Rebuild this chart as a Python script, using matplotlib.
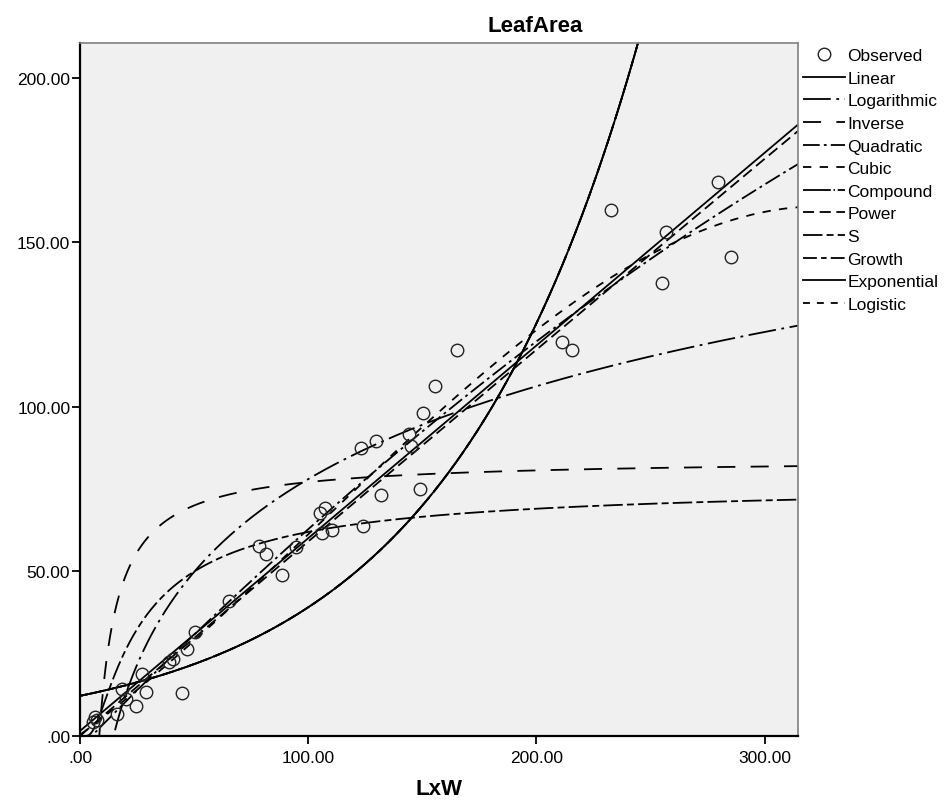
import numpy as np
import matplotlib
matplotlib.use("Agg")
import matplotlib.pyplot as plt
from matplotlib.ticker import FuncFormatter

# observed points
lxw = [5.5, 6.6, 7.6, 16.3, 18.5, 20.0, 24.7, 27.2, 29.0, 39.0, 40.8, 44.8,
       46.8, 50.3, 65.2, 78.6, 81.4, 88.4, 94.8, 105.2, 106.2, 107.4, 110.6,
       123.1, 123.9, 129.7, 131.9, 144.3, 145.0, 149.0, 150.4, 155.4, 165.3,
       211.3, 215.5, 232.7, 255.2, 256.7, 279.7, 285.3]
leaf_area = [4.2, 5.7, 5.0, 6.7, 14.3, 11.3, 9.0, 18.8, 13.4, 22.5, 23.5, 13.2,
             26.4, 31.7, 41.1, 57.6, 55.3, 48.9, 57.5, 67.9, 61.6, 69.3, 62.7,
             87.5, 63.7, 89.8, 73.3, 91.8, 88.2, 75.1, 98.2, 106.3, 117.4,
             119.6, 117.2, 160.0, 137.6, 153.3, 168.5, 145.7]

x_ticks = [0, 100, 200, 300]
y_ticks = [0, 50, 100, 150, 200]

plt.rcParams['font.family'] = ['Liberation Sans', 'DejaVu Sans']
plt.rcParams['lines.scale_dashes'] = False

x = np.array(lxw)
y = np.array(leaf_area)
xs = np.linspace(0.3, 320, 1000)

# curve estimation, same model forms as SPSS
lin = np.polyval(np.polyfit(x, y, 1), xs)
lg = np.polyval(np.polyfit(np.log(x), y, 1), np.log(xs))
inv = np.polyval(np.polyfit(1 / x, y, 1), 1 / xs)
quad = np.polyval(np.polyfit(x, y, 2), xs)
cub = np.polyval(np.polyfit(x, y, 3), xs)
comp = np.exp(np.polyval(np.polyfit(x, np.log(y), 1), xs))
pw = np.exp(np.polyval(np.polyfit(np.log(x), np.log(y), 1), np.log(xs)))
s_curve = np.exp(np.polyval(np.polyfit(1 / x, np.log(y), 1), 1 / xs))

curves = [
    ('Linear', lin, '-'),
    ('Logarithmic', lg, (0, (20, 4, 2, 4))),
    ('Inverse', inv, (0, (13, 11))),
    ('Quadratic', quad, (0, (12, 3, 2, 3))),
    ('Cubic', cub, (0, (6, 6))),
    ('Compound', comp, (0, (20, 2, 1, 2))),
    ('Power', pw, (0, (8, 4))),
    ('S', s_curve, (0, (14, 3, 5, 3))),
    ('Growth', comp, (0, (10, 3, 4, 3))),
    ('Exponential', comp, '-'),
    ('Logistic', comp, (0, (5, 5))),
]

fig = plt.figure(figsize=(9.47, 8.12), dpi=100)
ax = fig.add_axes([80 / 947, 1 - 737 / 812, 718 / 947, 693 / 812])
ax.set_facecolor('#f0f0f0')

handles = []
h = ax.plot(x, y, 'o', mfc='none', mec='#222222', ms=9, mew=1.0, label='Observed', zorder=5)[0]
handles.append(h)
for name, vals, ls in curves:
    h = ax.plot(xs, vals, color='black', lw=1.3, linestyle=ls, label=name)[0]
    handles.append(h)

ax.set_xlim(0, 314.6)
ax.set_ylim(0, 210.6)
ax.set_xticks(x_ticks)
ax.set_yticks(y_ticks)
fmt = FuncFormatter(lambda v, p: '.00' if v == 0 else f'{v:.2f}')
ax.xaxis.set_major_formatter(fmt)
ax.yaxis.set_major_formatter(fmt)
ax.tick_params(direction='out', length=6, width=1.3, labelsize=12.5, colors='black')
ax.tick_params(axis='x', pad=4)
ax.tick_params(axis='y', pad=1)
for side in ['left', 'bottom']:
    ax.spines[side].set_linewidth(1.6)
    ax.spines[side].set_color('black')
for side in ['top', 'right']:
    ax.spines[side].set_linewidth(1.2)
    ax.spines[side].set_color('#808080')

fig.text(535 / 947, 1 - 27 / 812, 'LeafArea', ha='center', va='center',
         fontsize=16, fontweight='bold')
fig.text(439 / 947, 1 - 790 / 812, 'LxW', ha='center', va='center',
         fontsize=16, fontweight='bold')

fig.legend(handles=handles, loc='upper left', bbox_to_anchor=(803 / 947, 1 - 49 / 812),
           frameon=False, fontsize=12.5, handlelength=2.4, handletextpad=0.15,
           labelspacing=0.43, borderaxespad=0, borderpad=0)

fig.savefig('out.png', dpi=100)
